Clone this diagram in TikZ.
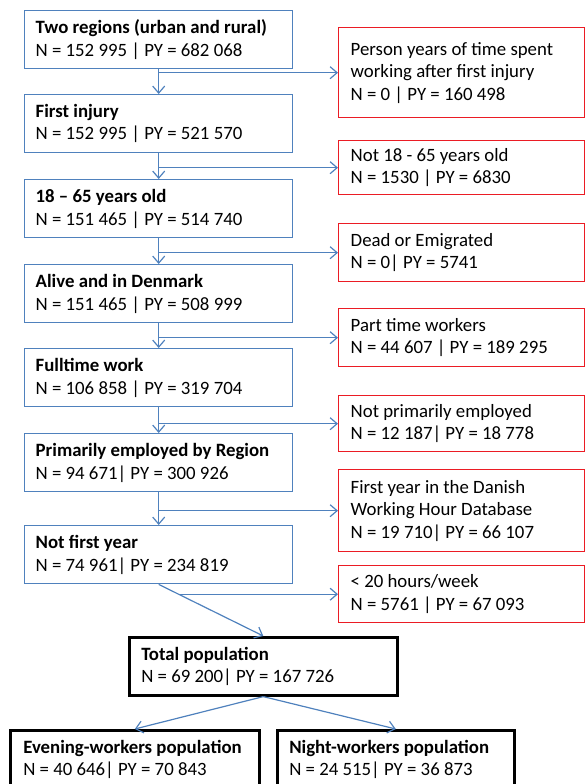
\documentclass[tikz,border=0pt]{standalone}
\usepackage{fontspec}
\setmainfont{Carlito}
\usepackage{tikz}
\usetikzlibrary{positioning,arrows.meta,calc}
\definecolor{boxblue}{RGB}{79,129,189}
\definecolor{boxred}{RGB}{235,28,36}

\begin{document}
\begin{tikzpicture}[
	x=1pt, y=-1pt,
	stage/.style={rectangle, draw=boxblue, line width=1.4pt, anchor=north west,
		align=left, inner xsep=11pt, inner ysep=0pt, text width=246pt, minimum height=58pt},
	excl/.style={rectangle, draw=boxred, line width=1.4pt, anchor=north west,
		align=left, inner xsep=12pt, inner ysep=0pt, text width=222pt},
	pop/.style={rectangle, draw=black, line width=2.6pt, anchor=north west,
		align=left, inner xsep=12pt, inner ysep=0pt, minimum height=58pt},
	flow/.style={draw=boxblue, line width=1.2pt, -{Straight Barb[length=7pt,width=12pt]}},
	font=\fontsize{18.8}{22.5}\selectfont,
	execute at begin node={\spaceskip=0.226em\xspaceskip=0.226em\relax}
	]
	\path[use as bounding box, clip] (0,0) rectangle (586,784);

	\node (b1) [stage] at (24,10) {\textbf{Two regions (urban and rural)}\\N = 152 995 | PY = 682 068};
	\node (b2) [stage] at (24,94) {\textbf{First injury}\\N = 152 995 | PY = 521 570};
	\node (b3) [stage] at (24,179) {\textbf{18 – 65 years old}\\N = 151 465 | PY = 514 740};
	\node (b4) [stage] at (24,264) {\textbf{Alive and in Denmark}\\N = 151 465 | PY = 508 999};
	\node (b5) [stage] at (24,348) {\textbf{Fulltime work}\\N = 106 858 | PY = 319 704};
	\node (b6) [stage] at (24,433) {\textbf{Primarily employed by Region}\\N = 94 671| PY = 300 926};
	\node (b7) [stage] at (24,525) {\textbf{Not first year}\\N = 74 961| PY = 234 819};

	\node (x1) [excl, minimum height=90pt] at (338,27) {Person years of time spent\\working after first injury\\N = 0 | PY = 160 498};
	\node (x2) [excl, minimum height=54pt] at (338,140) {Not 18 - 65 years old\\N = 1530 | PY = 6830};
	\node (x3) [excl, minimum height=58pt] at (338,223) {Dead or Emigrated\\N = 0| PY = 5741};
	\node (x4) [excl, minimum height=58pt] at (338,308) {Part time workers\\N = 44 607 | PY = 189 295};
	\node (x5) [excl, minimum height=56pt] at (338,395) {Not primarily employed\\N = 12 187| PY = 18 778};
	\node (x6) [excl, minimum height=82pt] at (338,469) {First year in the Danish\\Working Hour Database\\N = 19 710| PY = 66 107};
	\node (x7) [excl, minimum height=57pt] at (338,565) {< 20 hours/week\\N = 5761 | PY = 67 093};

	\node (tot) [pop, text width=244pt] at (128,636) {\textbf{Total population}\\N = 69 200| PY = 167 726};
	\node (eve) [pop, inner xsep=13pt, text width=223pt] at (9,729) {\textbf{Evening-workers population}\\N = 40 646| PY = 70 843};
	\node (nig) [pop, text width=213pt] at (276,729) {\textbf{Night-workers population}\\N = 24 515| PY = 36 873};

	\draw[flow] (b1) -- (b2);
	\draw[flow] (b2) -- (b3);
	\draw[flow] (b3) -- (b4);
	\draw[flow] (b4) -- (b5);
	\draw[flow] (b5) -- (b6);
	\draw[flow] (b6) -- (b7);
	\draw[flow] (b1.south |- x1.west) -- (x1.west);
	\draw[flow] (b2.south |- x2.west) -- (x2.west);
	\draw[flow] (b3.south |- x3.west) -- (x3.west);
	\draw[flow] (b4.south |- x4.west) -- (x4.west);
	\draw[flow] (b5.south |- x5.west) -- (x5.west);
	\draw[flow] (b6.south |- x6.west) -- (x6.west);

	\coordinate (j7) at ($(b7.south)!0.19!(tot.north)$);
	\draw[flow] (b7.south) -- (tot.north);
	\draw[flow] (j7) -- (j7 -| x7.west);

	\draw[flow] (tot.south) -- (eve.north);
	\draw[flow] (tot.south) -- (nig.north);
\end{tikzpicture}
\end{document}
